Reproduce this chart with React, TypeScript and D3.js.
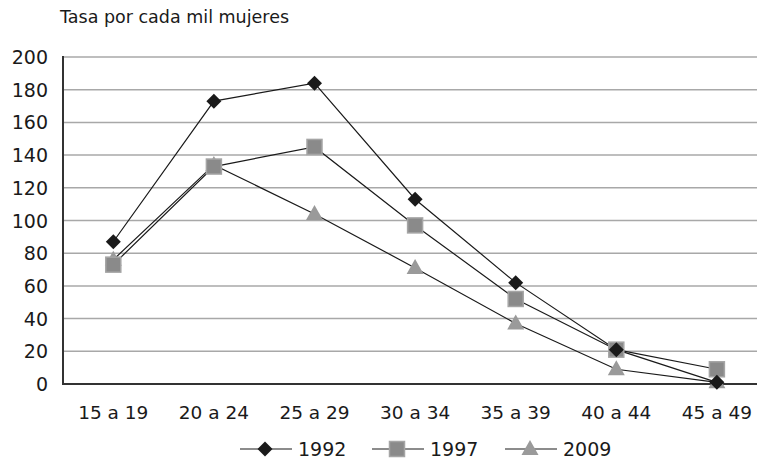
import React from "react";
import * as d3 from "d3";

const categories = ["15 a 19", "20 a 24", "25 a 29", "30 a 34", "35 a 39", "40 a 44", "45 a 49"];
const s1992 = [87, 173, 184, 113, 62, 21, 1];
const s1997 = [73, 133, 145, 97, 52, 21, 9];
const s2009 = [76, 134, 104, 71, 37, 9, 1];
const yTicks = [0, 20, 40, 60, 80, 100, 120, 140, 160, 180, 200];
const seriesNames = ["1992", "1997", "2009"];
const title = "Tasa por cada mil mujeres";

const W = 757, H = 460;
const left = 63, top = 57, bottom = 384;
const bandW = 100.6;
const FONT = "'DejaVu Sans', sans-serif";

function Marker({ kind, x, y }: { kind: number; x: number; y: number }) {
  if (kind === 0) {
    const r = 7.5;
    return <path d={`M${x},${y - r}L${x + r},${y}L${x},${y + r}L${x - r},${y}Z`} fill="#1a1a1a" />;
  }
  if (kind === 1) {
    const s = 7.5;
    return <rect x={x - s} y={y - s} width={2 * s} height={2 * s} fill="#8a8a8a" stroke="#a5a5a5" strokeWidth={1.5} />;
  }
  const h = 15, w = 17;
  return <path d={`M${x},${y - h * 0.6}L${x + w / 2},${y + h * 0.4}L${x - w / 2},${y + h * 0.4}Z`} fill="#9a9a9a" />;
}

export default function App() {
  const x = d3.scaleBand<string>().domain(categories).range([left, left + bandW * categories.length]);
  const y = d3.scaleLinear().domain([0, 200]).range([bottom, top]);
  const cx = (c: string) => (x(c) as number) + x.bandwidth() / 2;
  const series = [s1992, s1997, s2009];
  const line = d3.line<number>().x((_, i) => cx(categories[i])).y((v) => y(v));
  const legendX = [240, 372, 505];

  return (
    <svg width={W} height={H} style={{ position: "absolute", left: 0, top: 0, background: "#fff" }}>
      <text x={60} y={23} fontFamily={FONT} fontSize={17.5} fill="#1a1a1a">{title}</text>
      {yTicks.map((t) => (
        <g key={t}>
          {t > 0 && <line x1={left} x2={W} y1={y(t)} y2={y(t)} stroke="#a8a8a8" strokeWidth={1.5} />}
          <text x={48} y={y(t) + 7} textAnchor="end" fontFamily={FONT} fontSize={19} fill="#1a1a1a">{t}</text>
        </g>
      ))}
      <line x1={left} x2={left} y1={top - 1} y2={bottom} stroke="#333" strokeWidth={2} />
      <line x1={left - 1} x2={W} y1={bottom} y2={bottom} stroke="#333" strokeWidth={2} />
      {categories.map((c) => (
        <text key={c} x={cx(c)} y={419} textAnchor="middle" fontFamily={FONT} fontSize={18.5} fill="#1a1a1a">{c}</text>
      ))}
      {series.map((s, k) => (
        <path key={k} d={line(s) || ""} fill="none" stroke="#1a1a1a" strokeWidth={1.2} />
      ))}
      {[2, 1, 0].map((k) => (
        <g key={k}>
          {series[k].map((v, i) => (
            <Marker key={i} kind={k} x={cx(categories[i])} y={y(v)} />
          ))}
        </g>
      ))}
      {seriesNames.map((n, k) => (
        <g key={n}>
          <line x1={legendX[k]} x2={legendX[k] + 52} y1={449} y2={449} stroke="#1a1a1a" strokeWidth={1.2} />
          <Marker kind={k} x={legendX[k] + 25} y={449} />
          <text x={legendX[k] + 58} y={456} fontFamily={FONT} fontSize={19} fill="#1a1a1a">{n}</text>
        </g>
      ))}
    </svg>
  );
}
